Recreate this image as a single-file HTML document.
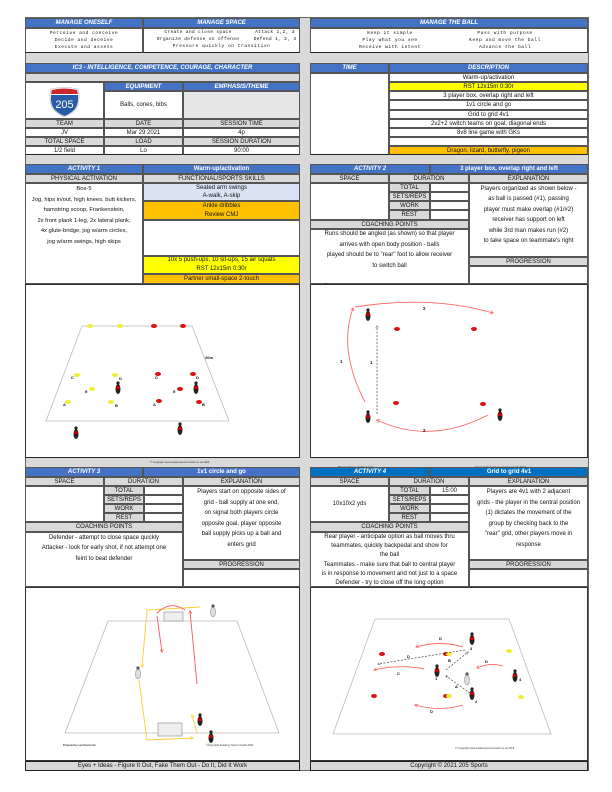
<!DOCTYPE html>
<html><head><meta charset="utf-8"><style>
*{margin:0;padding:0;box-sizing:border-box}
body{width:612px;height:792px;background:#fff;position:relative;overflow:hidden;font-family:"Liberation Sans",sans-serif;font-size:6px;color:#111}
div{position:absolute}
.c{border:0.6px solid #555;display:flex;align-items:center;justify-content:center;text-align:center;line-height:1;white-space:nowrap;overflow:hidden}
.w{background:#fff}
.g{background:#d9d9d9}
.h{background:#4472c4;color:#fff;font-weight:bold;font-style:italic}
.h2{background:#0070c0;color:#fff;font-weight:bold;font-style:italic}
.hb{background:#4472c4;color:#fff;font-weight:bold}
.hb2{background:#0070c0;color:#fff;font-weight:bold}
.y{background:#ffff00}
.o{background:#ffc000}
.t{text-align:center;line-height:9px;white-space:nowrap}
.sp{font-family:"Liberation Mono",monospace;font-size:4.6px;letter-spacing:0.5px;line-height:7.2px;text-align:center;white-space:nowrap}
</style></head><body>
<div style="left:25px;top:17px;width:564px;height:754px;background:#d9d9d9;border:1px solid #666"></div>

<!-- top -->
<div class="c h" style="left:25px;top:18px;width:118px;height:10px">MANAGE ONESELF</div>
<div class="c h" style="left:143px;top:18px;width:157px;height:10px">MANAGE SPACE</div>
<div class="c h" style="left:310px;top:18px;width:278px;height:10px">MANAGE THE BALL</div>
<div class="c w" style="left:25px;top:28px;width:118px;height:25px;border-bottom:1.2px solid #222"></div>
<div class="c w" style="left:143px;top:28px;width:157px;height:25px;border-bottom:1.2px solid #222"></div>
<div class="c w" style="left:310px;top:28px;width:278px;height:25px;border-bottom:1.2px solid #222"></div>
<div class="sp" style="left:25px;top:30px;width:118px">Perceive and conceive<br>Decide and deceive<br>Execute and assess</div>
<div class="sp" style="left:143px;top:30px;width:110px;line-height:6.5px;letter-spacing:0.3px">Create and close space<br>Organize defense on offense</div>
<div class="sp" style="left:250px;top:30px;width:50px;line-height:6.5px;letter-spacing:0.3px">Attack 1,2, 3<br>Defend 1, 2, 3</div>
<div class="sp" style="left:143px;top:43px;width:157px">Pressure quickly on transition</div>
<div class="sp" style="left:330px;top:30px;width:120px">Keep it simple<br>Play what you see<br>Receive with intent</div>
<div class="sp" style="left:445px;top:30px;width:120px">Pass with purpose<br>Keep and move the ball<br>Advance the ball</div>

<!-- IC3 -->
<div class="c h" style="left:25px;top:63px;width:275px;height:10px">IC3 - INTELLIGENCE, COMPETENCE, COURAGE, CHARACTER</div>
<div class="c g" style="left:25px;top:73px;width:275px;height:9px"></div>
<div class="c w" style="left:25px;top:82px;width:79px;height:37px"></div>
<svg style="position:absolute;left:48px;top:87px" width="33" height="30" viewBox="0 0 33 30"><path d="M3 2 Q16 -1 30 2 Q33 14 28 22 Q22 28 16.5 30 Q11 28 5 22 Q0 14 3 2Z" fill="#fff" stroke="#bbb" stroke-width=".6"/><path d="M4 3 Q16 0 29 3 L30 7 L3 7Z" fill="#c8282e"/><path d="M3 8 L30 8 Q31 16 27 22 Q22 27 16.5 29 Q11 27 6 22 Q2 16 3 8Z" fill="#2a5ba8"/><text x="16.5" y="21" font-family="Liberation Sans" font-size="11" fill="#fff" text-anchor="middle">205</text></svg>
<div class="c hb" style="left:104px;top:82px;width:79px;height:9px;font-style:italic">EQUIPMENT</div>
<div class="c hb" style="left:183px;top:82px;width:117px;height:9px;font-style:italic">EMPHASIS/THEME</div>
<div class="c w" style="left:104px;top:91px;width:79px;height:28px">Balls, cones, bibs</div>
<div class="c" style="left:183px;top:91px;width:117px;height:28px;background:#e7e6e6"></div>
<div class="c g" style="left:25px;top:119px;width:79px;height:9px">TEAM</div>
<div class="c g" style="left:104px;top:119px;width:79px;height:9px">DATE</div>
<div class="c g" style="left:183px;top:119px;width:117px;height:9px">SESSION TIME</div>
<div class="c w" style="left:25px;top:128px;width:79px;height:9px">JV</div>
<div class="c w" style="left:104px;top:128px;width:79px;height:9px">Mar 29 2021</div>
<div class="c w" style="left:183px;top:128px;width:117px;height:9px">4p</div>
<div class="c g" style="left:25px;top:137px;width:79px;height:9px">TOTAL SPACE</div>
<div class="c g" style="left:104px;top:137px;width:79px;height:9px">LOAD</div>
<div class="c g" style="left:183px;top:137px;width:117px;height:9px">SESSION DURATION</div>
<div class="c w" style="left:25px;top:146px;width:79px;height:9px;border-bottom:1.2px solid #222">1/2 field</div>
<div class="c w" style="left:104px;top:146px;width:79px;height:9px;border-bottom:1.2px solid #222">Lo</div>
<div class="c w" style="left:183px;top:146px;width:117px;height:9px;border-bottom:1.2px solid #222">90:00</div>

<div class="c h" style="left:310px;top:63px;width:79px;height:10px">TIME</div>
<div class="c h" style="left:389px;top:63px;width:199px;height:10px">DESCRIPTION</div>
<div class="c w" style="left:310px;top:73px;width:79px;height:82px;border-bottom:1.2px solid #222"></div>
<div class="c w" style="left:389px;top:73px;width:199px;height:9px">Warm-up/activation</div>
<div class="c y" style="left:389px;top:82px;width:199px;height:9px">RST 12x15m 0:30r</div>
<div class="c w" style="left:389px;top:91px;width:199px;height:9px">3 player box, overlap right and left</div>
<div class="c w" style="left:389px;top:100px;width:199px;height:10px">1v1 circle and go</div>
<div class="c w" style="left:389px;top:110px;width:199px;height:9px">Grid to grid 4v1</div>
<div class="c w" style="left:389px;top:119px;width:199px;height:9px">2v2+2 switch teams on goal, diagonal ends</div>
<div class="c w" style="left:389px;top:128px;width:199px;height:9px">8v8 line game with GKs</div>
<div class="c w" style="left:389px;top:137px;width:199px;height:9px"></div>
<div class="c o" style="left:389px;top:146px;width:199px;height:9px;border-bottom:1.2px solid #222">Dragon, lizard, butterfly, pigeon</div>

<!-- Activity 1 -->
<div class="c h" style="left:25px;top:164px;width:118px;height:10px">ACTIVITY 1</div>
<div class="c hb" style="left:143px;top:164px;width:157px;height:10px">Warm-up/activation</div>
<div class="c g" style="left:25px;top:174px;width:118px;height:9px">PHYSICAL ACTIVATION</div>
<div class="c g" style="left:143px;top:174px;width:157px;height:9px">FUNCTIONAL/SPORTS SKILLS</div>
<div class="c w" style="left:25px;top:183px;width:118px;height:101px"></div>
<div class="t" style="left:25px;top:184px;width:118px;line-height:10.6px;font-size:5.8px">Box-5<br>Jog, hips in/out, high knees, butt kickers,<br>hamstring scoop, Frankenstein,<br>2x front plank 1-leg, 2x lateral plank,<br>4x glute-bridge, jog w/arm circles,<br>jog w/arm swings, high skips</div>
<div class="c" style="left:143px;top:183px;width:157px;height:18px;background:#dae3f3;line-height:8.5px">Seated arm swings<br>A-walk, A-skip</div>
<div class="c o" style="left:143px;top:201px;width:157px;height:19px;line-height:9px">Ankle dribbles<br>Review CMJ</div>
<div class="c w" style="left:143px;top:220px;width:157px;height:36px"></div>
<div class="c y" style="left:143px;top:256px;width:157px;height:18px;line-height:9px">10x 5 push-ups, 10 sit-ups, 15 air squats<br>RST 12x15m 0:30r</div>
<div class="c o" style="left:143px;top:274px;width:157px;height:10px">Partner small-space 2-touch</div>

<!-- Activity 2 -->
<div class="c h" style="left:310px;top:164px;width:120px;height:10px">ACTIVITY 2</div>
<div class="c hb" style="left:430px;top:164px;width:158px;height:10px">3 player box, overlap right and left</div>
<div class="c g" style="left:310px;top:174px;width:79px;height:9px">SPACE</div>
<div class="c g" style="left:389px;top:174px;width:80px;height:9px">DURATION</div>
<div class="c g" style="left:469px;top:174px;width:119px;height:9px">EXPLANATION</div>
<div class="c w" style="left:310px;top:183px;width:79px;height:37px"></div>
<div class="c g" style="left:389px;top:183px;width:41px;height:9px">TOTAL</div>
<div class="c g" style="left:389px;top:192px;width:41px;height:9px">SETS/REPS</div>
<div class="c g" style="left:389px;top:201px;width:41px;height:9px">WORK</div>
<div class="c g" style="left:389px;top:210px;width:41px;height:10px">REST</div>
<div class="c w" style="left:430px;top:183px;width:39px;height:9px"></div>
<div class="c w" style="left:430px;top:192px;width:39px;height:9px"></div>
<div class="c w" style="left:430px;top:201px;width:39px;height:9px"></div>
<div class="c w" style="left:430px;top:210px;width:39px;height:10px"></div>
<div class="c g" style="left:310px;top:220px;width:159px;height:9px">COACHING POINTS</div>
<div class="c w" style="left:310px;top:229px;width:159px;height:55px"></div>
<div class="t" style="left:310px;top:229px;width:159px;line-height:10.5px">Runs should be angled (as shown) so that player<br>arrives with open body position - balls<br>played should be to "rear" foot to allow receiver<br>to switch ball<br><br>Provide relationship to rondos and positional play</div>
<div class="c w" style="left:469px;top:183px;width:119px;height:74px"></div>
<div class="t" style="left:469px;top:184px;width:119px;line-height:10.4px">Players organized as shown below -<br>as ball is passed (#1), passing<br>player must make overlap (#1/#2)<br>receiver has support on left<br>while 3rd man makes run (#2)<br>to take space on teammate's right</div>
<div class="c g" style="left:469px;top:257px;width:119px;height:9px">PROGRESSION</div>
<div class="c w" style="left:469px;top:266px;width:119px;height:18px"></div>

<!-- Images row 1 -->
<div class="w" style="left:25px;top:284px;width:275px;height:174px;border:0.8px solid #333;border-bottom:1.2px solid #222"></div>
<div class="w" style="left:310px;top:284px;width:278px;height:174px;border:0.8px solid #333;border-bottom:1.2px solid #222"></div>
<svg style="position:absolute;left:0;top:0" width="612" height="792" font-family="Liberation Sans" font-weight="bold">
<defs>
<marker id="ar" viewBox="0 0 6 6" refX="5" refY="3" markerWidth="4" markerHeight="4" orient="auto"><path d="M0 0L6 3L0 6" fill="none" stroke="#f55" stroke-width="1"/></marker>
<marker id="ak" viewBox="0 0 6 6" refX="5" refY="3" markerWidth="4" markerHeight="4" orient="auto"><path d="M0 0L6 3L0 6" fill="none" stroke="#444" stroke-width="1"/></marker>
<g id="pl"><ellipse cx="0" cy="0" rx="2.5" ry="5" fill="#222"/><rect x="-1.8" y="-3" width="3.6" height="3" fill="#c00"/><circle cx="0" cy="-6" r="1.6" fill="#222"/></g>
</defs>
<path d="M82 326 L192 326 L229 421 L46 421 Z" fill="none" stroke="#bbb" stroke-width=".8"/>
<g fill="#ee3"><ellipse cx="90" cy="326" rx="3" ry="2"/><ellipse cx="120" cy="326" rx="3" ry="2"/><ellipse cx="77" cy="375" rx="3" ry="2"/><ellipse cx="115" cy="375" rx="3" ry="2"/><ellipse cx="92" cy="389" rx="3" ry="2"/><ellipse cx="68" cy="402" rx="3" ry="2"/><ellipse cx="111" cy="402" rx="3" ry="2"/></g>
<g fill="#d11"><ellipse cx="154" cy="326" rx="3" ry="2"/><ellipse cx="183" cy="326" rx="3" ry="2"/><ellipse cx="158" cy="374" rx="3" ry="2"/><ellipse cx="193" cy="374" rx="3" ry="2"/><ellipse cx="180" cy="389" rx="3" ry="2"/><ellipse cx="159" cy="401" rx="3" ry="2"/><ellipse cx="199" cy="402" rx="3" ry="2"/></g>
<g font-size="4" fill="#111"><text x="71" y="379">C</text><text x="119" y="380">D</text><text x="155" y="379">C</text><text x="196" y="379">D</text><text x="85" y="393">E</text><text x="173" y="393">E</text><text x="63" y="406">A</text><text x="115" y="407">B</text><text x="153" y="406">A</text><text x="202" y="406">B</text><text x="205" y="359">20m</text></g>
<use href="#pl" x="118" y="389"/><use href="#pl" x="196" y="389"/><use href="#pl" x="76" y="434"/><use href="#pl" x="180" y="430"/>
<text x="150" y="463" font-size="2.6" font-weight="normal" fill="#333">© Copyright www.academysoccercoach.co.uk 2020</text>
<g fill="#d11"><ellipse cx="397" cy="329" rx="3" ry="2"/><ellipse cx="474" cy="329" rx="3" ry="2"/><ellipse cx="396" cy="403" rx="3" ry="2"/><ellipse cx="483" cy="404" rx="3" ry="2"/></g>
<line x1="377" y1="414" x2="377" y2="326" stroke="#444" stroke-width=".7" stroke-dasharray="2 1.5" marker-end="url(#ak)"/>
<path d="M365 402 Q338 350 353 308" fill="none" stroke="#f66" stroke-width=".9" marker-end="url(#ar)"/>
<path d="M355 307 Q430 295 493 313" fill="none" stroke="#f66" stroke-width=".9" marker-end="url(#ar)"/>
<path d="M488 415 Q430 445 377 420" fill="none" stroke="#f66" stroke-width=".9" marker-end="url(#ar)"/>
<g font-size="4.5" fill="#111"><text x="340" y="363">1</text><text x="370" y="364">1</text><text x="423" y="310">2</text><text x="423" y="432">2</text></g>
<use href="#pl" x="368" y="316"/><use href="#pl" x="368" y="418"/><use href="#pl" x="500" y="416"/>
<text x="338" y="468" font-size="2.8" fill="#333">Powered by soccloud.com</text>
<text x="475" y="468" font-size="2.8" font-weight="normal" fill="#333">©Copyright Academy Sports Coach 2021</text>
</svg>

<!-- Activity 3 -->
<div class="c h" style="left:25px;top:467px;width:118px;height:10px">ACTIVITY 3</div>
<div class="c hb" style="left:143px;top:467px;width:157px;height:10px">1v1 circle and go</div>
<div class="c g" style="left:25px;top:477px;width:79px;height:9px">SPACE</div>
<div class="c g" style="left:104px;top:477px;width:79px;height:9px">DURATION</div>
<div class="c g" style="left:183px;top:477px;width:117px;height:9px">EXPLANATION</div>
<div class="c w" style="left:25px;top:486px;width:79px;height:36px"></div>
<div class="c g" style="left:104px;top:486px;width:40px;height:9px">TOTAL</div>
<div class="c g" style="left:104px;top:495px;width:40px;height:9px">SETS/REPS</div>
<div class="c g" style="left:104px;top:504px;width:40px;height:9px">WORK</div>
<div class="c g" style="left:104px;top:513px;width:40px;height:9px">REST</div>
<div class="c w" style="left:144px;top:486px;width:39px;height:9px"></div>
<div class="c w" style="left:144px;top:495px;width:39px;height:9px"></div>
<div class="c w" style="left:144px;top:504px;width:39px;height:9px"></div>
<div class="c w" style="left:144px;top:513px;width:39px;height:9px"></div>
<div class="c g" style="left:25px;top:522px;width:158px;height:10px">COACHING POINTS</div>
<div class="c w" style="left:25px;top:532px;width:158px;height:55px"></div>
<div class="t" style="left:25px;top:533px;width:158px;line-height:10.3px">Defender - attempt to close space quickly<br>Attacker - look for early shot, if not attempt one<br>feint to beat defender</div>
<div class="c w" style="left:183px;top:486px;width:117px;height:74px"></div>
<div class="t" style="left:183px;top:487px;width:117px;line-height:10.6px">Players start on opposite sides of<br>grid - ball supply at one end,<br>on signal both players circle<br>opposite goal, player opposite<br>ball supply picks up a ball and<br>enters grid</div>
<div class="c g" style="left:183px;top:560px;width:117px;height:9px">PROGRESSION</div>
<div class="c w" style="left:183px;top:569px;width:117px;height:18px"></div>

<!-- Activity 4 -->
<div class="c h2" style="left:310px;top:467px;width:120px;height:10px">ACTIVITY 4</div>
<div class="c hb2" style="left:430px;top:467px;width:158px;height:10px">Grid to grid 4v1</div>
<div class="c g" style="left:310px;top:477px;width:79px;height:9px">SPACE</div>
<div class="c g" style="left:389px;top:477px;width:80px;height:9px">DURATION</div>
<div class="c g" style="left:469px;top:477px;width:119px;height:9px">EXPLANATION</div>
<div class="c w" style="left:310px;top:486px;width:79px;height:36px">10x10x2 yds</div>
<div class="c g" style="left:389px;top:486px;width:41px;height:9px">TOTAL</div>
<div class="c g" style="left:389px;top:495px;width:41px;height:9px">SETS/REPS</div>
<div class="c g" style="left:389px;top:504px;width:41px;height:9px">WORK</div>
<div class="c g" style="left:389px;top:513px;width:41px;height:9px">REST</div>
<div class="c w" style="left:430px;top:486px;width:39px;height:9px">15:00</div>
<div class="c w" style="left:430px;top:495px;width:39px;height:9px"></div>
<div class="c w" style="left:430px;top:504px;width:39px;height:9px"></div>
<div class="c w" style="left:430px;top:513px;width:39px;height:9px"></div>
<div class="c g" style="left:310px;top:522px;width:159px;height:10px">COACHING POINTS</div>
<div class="c w" style="left:310px;top:532px;width:159px;height:55px"></div>
<div class="t" style="left:310px;top:533px;width:159px;line-height:9.2px">Rear player - anticipate option as ball moves thru<br>teammates, quickly backpedal and show for<br>the ball<br>Teammates - make sure that ball to central player<br>is in response to movement and not just to a space<br>Defender - try to close off the long option</div>
<div class="c w" style="left:469px;top:486px;width:119px;height:74px"></div>
<div class="t" style="left:469px;top:487px;width:119px;line-height:10.6px">Players are 4v1 with 2 adjacent<br>grids - the player in the central position<br>(1) dictates the movement of the<br>group by checking back to the<br>"rear" grid, other players move in<br>response</div>
<div class="c g" style="left:469px;top:560px;width:119px;height:9px">PROGRESSION</div>
<div class="c w" style="left:469px;top:569px;width:119px;height:18px"></div>

<!-- images row 2 -->
<div class="w" style="left:25px;top:587px;width:275px;height:174px;border:0.8px solid #333"></div>
<div class="w" style="left:310px;top:587px;width:278px;height:174px;border:0.8px solid #333"></div>
<div class="c g" style="left:25px;top:761px;width:275px;height:10px;border:1px solid #222">Eyes + Ideas - Figure It Out, Fake Them Out - Do It, Did It Work</div>
<div class="c g" style="left:310px;top:761px;width:278px;height:10px;border:1px solid #222">Copyright ©  2021  205 Sports</div>

<svg style="position:absolute;left:0;top:0" width="612" height="792" font-family="Liberation Sans" font-weight="bold">
<defs>
<marker id="br" viewBox="0 0 6 6" refX="5" refY="3" markerWidth="4" markerHeight="4" orient="auto"><path d="M0 0L6 3L0 6" fill="none" stroke="#f55" stroke-width="1"/></marker>
<marker id="by" viewBox="0 0 6 6" refX="5" refY="3" markerWidth="4" markerHeight="4" orient="auto"><path d="M0 0L6 3L0 6" fill="none" stroke="#fc3" stroke-width="1"/></marker>
<marker id="bk" viewBox="0 0 6 6" refX="5" refY="3" markerWidth="4" markerHeight="4" orient="auto"><path d="M0 0L6 3L0 6" fill="none" stroke="#444" stroke-width="1"/></marker>
<g id="q"><ellipse cx="0" cy="0" rx="2.5" ry="5" fill="#222"/><rect x="-1.8" y="-3" width="3.6" height="3" fill="#c00"/><circle cx="0" cy="-6" r="1.6" fill="#222"/></g>
<g id="qw"><ellipse cx="0" cy="0" rx="2.5" ry="5" fill="#ddd" stroke="#777" stroke-width=".5"/><circle cx="0" cy="-6" r="1.6" fill="#555"/></g>
</defs>
<path d="M108 621 L237 621 L279 733 L65 733 Z" fill="none" stroke="#bbb" stroke-width=".8"/>
<rect x="164" y="612" width="19" height="9" fill="#eee" stroke="#888" stroke-width=".6"/>
<rect x="158" y="723" width="24" height="13" fill="#eee" stroke="#888" stroke-width=".6"/>
<path d="M200 607 L147 610 L142 667" fill="none" stroke="#fc3" stroke-width=".9" marker-end="url(#by)"/>
<path d="M139 680 L147 740 L193 738" fill="none" stroke="#fc3" stroke-width=".9" marker-end="url(#by)"/>
<path d="M197 733 L192 715" fill="none" stroke="#fc3" stroke-width=".9" marker-end="url(#by)"/>
<path d="M157 616 L162 652" fill="none" stroke="#f55" stroke-width=".9" marker-end="url(#br)"/>
<path d="M197 684 L190 611" fill="none" stroke="#f55" stroke-width=".9" marker-end="url(#br)"/>
<path d="M157 613 Q170 600 185 610" fill="none" stroke="#f55" stroke-width=".9"/>
<use href="#qw" x="213" y="612"/><use href="#qw" x="138" y="674"/><use href="#q" x="200" y="721"/><use href="#q" x="211" y="738"/>
<text x="63" y="746" font-size="2.6" fill="#333">Powered by soccloud.com</text>
<text x="206" y="746" font-size="2.6" font-weight="normal" fill="#333">©Copyright Academy Sports Coach 2021</text>
<path d="M375 619 L509 619 L551 734 L333 734 Z" fill="none" stroke="#bbb" stroke-width=".8"/>
<g fill="#d11"><ellipse cx="382" cy="654" rx="3" ry="2"/><ellipse cx="446" cy="654" rx="3" ry="2"/><ellipse cx="374" cy="696" rx="3" ry="2"/><ellipse cx="446" cy="696" rx="3" ry="2"/></g>
<g fill="#ee3"><ellipse cx="449" cy="654" rx="3" ry="2"/><ellipse cx="509" cy="651" rx="3" ry="2"/><ellipse cx="449" cy="696" rx="3" ry="2"/><ellipse cx="521" cy="697" rx="3" ry="2"/></g>
<path d="M463 647 Q440 640 416 647" fill="none" stroke="#f66" stroke-width=".9" marker-end="url(#br)"/>
<path d="M424 669 Q400 664 374 670" fill="none" stroke="#f66" stroke-width=".9" marker-end="url(#br)"/>
<path d="M503 666 Q490 662 477 668" fill="none" stroke="#f66" stroke-width=".9" marker-end="url(#br)"/>
<path d="M463 705 Q440 712 415 705" fill="none" stroke="#f66" stroke-width=".9" marker-end="url(#br)"/>
<g stroke="#444" stroke-width=".7" stroke-dasharray="2 1.5" fill="none"><path d="M465 650 L378 664" marker-end="url(#bk)"/><path d="M446 670 L468 652" marker-end="url(#bk)"/><path d="M470 693 L446 676" marker-end="url(#bk)"/></g>
<g font-size="4" fill="#111"><text x="439" y="640">D</text><text x="407" y="658">D</text><text x="448" y="662">B</text><text x="397" y="675">C</text><text x="485" y="663">D</text><text x="455" y="688">A</text><text x="430" y="713">D</text><text x="470" y="650">3</text><text x="435" y="680">1</text><text x="519" y="681">4</text><text x="475" y="703">2</text></g>
<use href="#q" x="472" y="640"/><use href="#q" x="437" y="672"/><use href="#qw" x="467" y="680"/><use href="#q" x="515" y="677"/><use href="#q" x="472" y="695"/>
<text x="455" y="749" font-size="2.6" font-weight="normal" fill="#333">© Copyright www.academysoccercoach.co.uk 2019</text>
</svg>
</body></html>
